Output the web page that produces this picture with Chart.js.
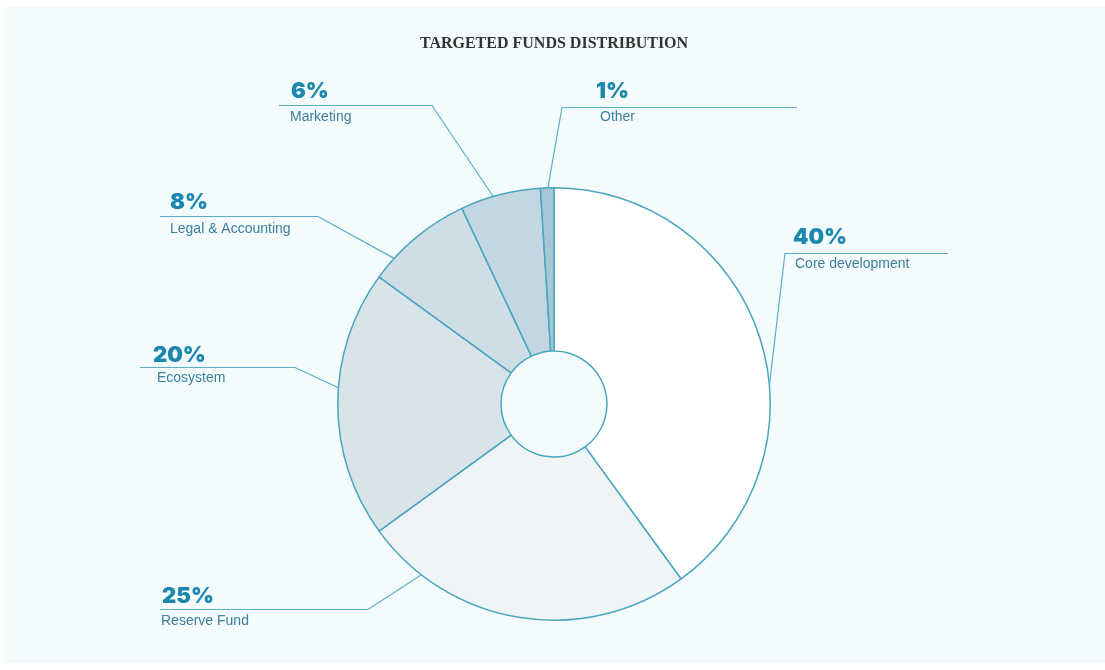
<!DOCTYPE html>
<html>
<head>
<meta charset="utf-8">
<script src="https://cdn.jsdelivr.net/npm/chart.js@4.4.0/dist/chart.umd.min.js"></script>
<style>
  html, body { margin: 0; padding: 0; background: #ffffff; }
  #wrap { position: absolute; left: 0; top: 0; width: 1105px; height: 670px; }
</style>
</head>
<body>
<div id="wrap"><canvas id="c" width="1105" height="670"></canvas></div>
<script>
const TITLE = 'TARGETED FUNDS DISTRIBUTION';
const categories = ['Core development', 'Reserve Fund', 'Ecosystem', 'Legal & Accounting', 'Marketing', 'Other'];
const shares = [40, 25, 20, 8, 6, 1];
const sliceColors = ['#ffffff', '#eff4f6', '#d9e4ea', '#cfdde5', '#c2d7e1', '#a8c7d5'];

// label layout: anchor fraction along slice, elbow point, line end, text positions
const labelLayout = [
  { t: 0.59, elbow: [785, 253], end: [948, 253], pct: [793, 244], name: [795, 264] },
  { t: 0.82, elbow: [368, 609], end: [160, 609], pct: [162, 603], name: [161, 621] },
  { t: 0.56, elbow: [295, 367], end: [140, 367], pct: [153, 362], name: [157, 378] },
  { t: 0.22, elbow: [318, 216], end: [160, 216], pct: [170, 209], name: [170, 229] },
  { t: 0.41, elbow: [432, 105], end: [279, 105], pct: [291, 98], name: [290, 117] },
  { t: 0.55, elbow: [562, 107], end: [797, 107], pct: [596, 98], name: [600, 117] }
];

const panelPlugin = {
  id: 'panel',
  beforeDraw(chart) {
    const ctx = chart.ctx;
    ctx.save();
    ctx.fillStyle = '#f3fbfd';
    ctx.fillRect(4, 7, 1101, 656);
    ctx.restore();
  }
};

const labelPlugin = {
  id: 'leaderLabels',
  afterDraw(chart) {
    const ctx = chart.ctx;
    const meta = chart.getDatasetMeta(0);
    ctx.save();
    // title
    ctx.fillStyle = '#333333';
    ctx.font = 'bold 16px "Liberation Serif", "Times New Roman", serif';
    ctx.textAlign = 'center';
    ctx.textBaseline = 'middle';
    ctx.fillText(TITLE, (chart.chartArea.left + chart.chartArea.right) / 2, 44);

    meta.data.forEach((arc, i) => {
      const p = arc.getProps(['x', 'y', 'startAngle', 'endAngle', 'outerRadius'], true);
      const L = labelLayout[i];
      const a = p.startAngle + (p.endAngle - p.startAngle) * L.t;
      const ax = p.x + Math.cos(a) * p.outerRadius;
      const ay = p.y + Math.sin(a) * p.outerRadius;
      ctx.strokeStyle = '#5aaec8';
      ctx.lineWidth = 1.2;
      ctx.beginPath();
      ctx.moveTo(ax, ay);
      ctx.lineTo(L.elbow[0], L.elbow[1] + 0.5);
      ctx.lineTo(L.end[0], L.end[1] + 0.5);
      ctx.stroke();

      const total = chart.data.datasets[0].data.reduce((s, v) => s + v, 0);
      const pct = Math.round(chart.data.datasets[0].data[i] / total * 100) + '%';
      ctx.textAlign = 'left';
      ctx.textBaseline = 'alphabetic';
      ctx.fillStyle = '#1b87ac';
      ctx.font = '900 22px Inter, "DejaVu Sans", sans-serif';
      ctx.fillText(pct, L.pct[0], L.pct[1]);
      ctx.fillStyle = '#3b7f9c';
      ctx.font = '14px "Liberation Sans", Arial, sans-serif';
      ctx.textBaseline = 'middle';
      ctx.fillText(chart.data.labels[i], L.name[0], L.name[1]);
    });
    ctx.restore();
  }
};

new Chart(document.getElementById('c'), {
  type: 'doughnut',
  data: {
    labels: categories,
    datasets: [{
      data: shares,
      backgroundColor: sliceColors,
      borderColor: '#4aa5c1',
      borderWidth: 1.5,
      hoverOffset: 0
    }]
  },
  options: {
    responsive: false,
    animation: false,
    cutout: '24.5%',
    layout: { padding: { left: 3, right: 0, top: 187, bottom: 49 } },
    plugins: {
      legend: { display: false },
      title: { display: false },
      tooltip: { enabled: false }
    }
  },
  plugins: [panelPlugin, labelPlugin]
});
</script>
</body>
</html>
